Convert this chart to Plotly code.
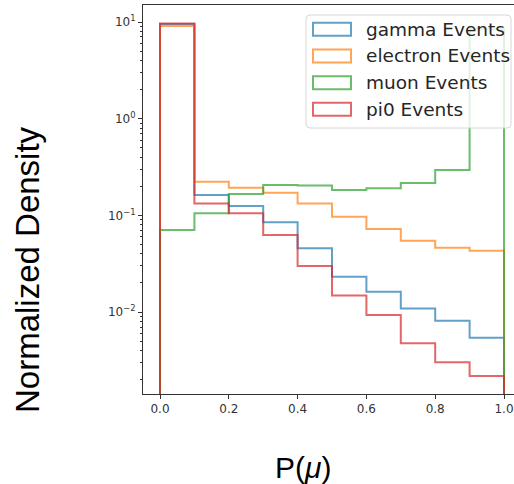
import plotly.graph_objects as go

# ---- data -------------------------------------------------------------
bin_edges = [0.0, 0.1, 0.2, 0.3, 0.4, 0.5, 0.6, 0.7, 0.8, 0.9, 1.0]
series_names = ["gamma Events", "electron Events", "muon Events", "pi0 Events"]
gamma_density = [9.52, 0.162, 0.125, 0.0847, 0.0456, 0.0232, 0.0162, 0.0109, 0.0081, 0.00542]
electron_density = [9.10, 0.222, 0.193, 0.171, 0.133, 0.0968, 0.0722, 0.0547, 0.0463, 0.0430]
muon_density = [0.0705, 0.105, 0.166, 0.206, 0.204, 0.183, 0.191, 0.216, 0.294, 8.5]
pi0_density = [9.64, 0.133, 0.105, 0.0625, 0.0300, 0.0148, 0.0093, 0.00474, 0.00302, 0.00218]
y_tick_values = [0.01, 0.1, 1, 10]
y_tick_labels = ["10<sup>−2</sup>", "10<sup>−1</sup>", "10<sup>0</sup>", "10<sup>1</sup>"]
x_tick_values = [0.0, 0.2, 0.4, 0.6, 0.8, 1.0]
x_tick_labels = ["0.0", "0.2", "0.4", "0.6", "0.8", "1.0"]

colors = ["rgba(31,119,180,0.7)", "rgba(255,127,14,0.7)",
          "rgba(44,160,44,0.7)", "rgba(214,39,40,0.7)"]

# ---- geometry (pixels) -------------------------------------------------
W, H = 514, 484
L, R, T, B = 143, 0, 5, 90
PW, PH = W - L - R, H - T - B


def px(x):
    return (x - L) / PW


def py(y):
    return (H - B - y) / PH


def step_xy(edges, vals, floor=1e-6):
    xs, ys = [edges[0]], [floor]
    for i, v in enumerate(vals):
        xs += [edges[i], edges[i + 1]]
        ys += [v, v]
    xs.append(edges[-1])
    ys.append(floor)
    return xs, ys


fig = go.Figure()
for name, vals, col in zip(series_names,
                           [gamma_density, electron_density, muon_density, pi0_density],
                           colors):
    xs, ys = step_xy(bin_edges, vals)
    fig.add_trace(go.Scatter(x=xs, y=ys, mode="lines", name=name,
                             line=dict(color=col, width=2), showlegend=False,
                             hoverinfo="skip"))

minor_vals = [m * 10 ** e for e in (-3, -2, -1, 0, 1) for m in range(2, 10)]

fig.update_layout(
    width=W, height=H,
    margin=dict(l=L, r=R, t=T, b=B),
    paper_bgcolor="white", plot_bgcolor="white",
    font=dict(family="DejaVu Sans", size=12, color="#262626"),
    xaxis=dict(range=[(L - 160) / 344, (W - 160) / 344],
               tickvals=x_tick_values, ticktext=x_tick_labels,
               ticks="outside", ticklen=4, tickwidth=1, tickcolor="#333",
               showline=True, linecolor="#333", linewidth=1, mirror=True,
               showgrid=False, zeroline=False,
               tickfont=dict(family="DejaVu Sans", size=12, color="#333")),
    yaxis=dict(type="log", range=[-2.848, 1.176],
               tickvals=y_tick_values, ticktext=y_tick_labels,
               ticks="outside", ticklen=4, tickwidth=1, tickcolor="#333",
               showline=True, linecolor="#333", linewidth=1, mirror=True,
               showgrid=False, zeroline=False,
               tickfont=dict(family="DejaVu Sans", size=12, color="#333"),
               minor=dict(tickvals=minor_vals, ticks="outside", ticklen=2,
                          tickwidth=1, tickcolor="#333", showgrid=False)),
)

# ---- legend (drawn manually to get matplotlib-style patches) -----------
lx0, lx1, ly0, ly1, r = 306, 511, 15, 128, 4
path = (f"M {px(lx0 + r)},{py(ly0)} L {px(lx1 - r)},{py(ly0)} "
        f"Q {px(lx1)},{py(ly0)} {px(lx1)},{py(ly0 + r)} "
        f"L {px(lx1)},{py(ly1 - r)} Q {px(lx1)},{py(ly1)} {px(lx1 - r)},{py(ly1)} "
        f"L {px(lx0 + r)},{py(ly1)} Q {px(lx0)},{py(ly1)} {px(lx0)},{py(ly1 - r)} "
        f"L {px(lx0)},{py(ly0 + r)} Q {px(lx0)},{py(ly0)} {px(lx0 + r)},{py(ly0)} Z")
fig.add_shape(type="path", path=path, xref="paper", yref="paper",
              fillcolor="rgba(255,255,255,0.8)", line=dict(color="#d6d6d6", width=1))

row_centers = [29.3, 56.0, 82.7, 109.3]
for name, col, yc in zip(series_names, colors, row_centers):
    fig.add_shape(type="rect", xref="paper", yref="paper",
                  x0=px(313), x1=px(351), y0=py(yc - 6.5), y1=py(yc + 6.5),
                  line=dict(color=col, width=2), fillcolor="rgba(0,0,0,0)")
    fig.add_annotation(x=px(364), y=py(yc), xref="paper", yref="paper",
                       text=name, showarrow=False, xanchor="left", yanchor="middle",
                       font=dict(family="DejaVu Sans", size=18.5, color="#262626"))

# ---- axis titles -------------------------------------------------------
fig.add_annotation(x=px(27), y=py(270), xref="paper", yref="paper",
                   text="Normalized Density", textangle=-90, showarrow=False,
                   xanchor="center", yanchor="middle",
                   font=dict(family="Liberation Sans", size=33, color="black"))
fig.add_annotation(x=px(303), y=py(467), xref="paper", yref="paper",
                   text="P(<i>μ</i>)", showarrow=False,
                   xanchor="center", yanchor="middle",
                   font=dict(family="Liberation Sans", size=30, color="black"))

fig.write_html("out.html")
